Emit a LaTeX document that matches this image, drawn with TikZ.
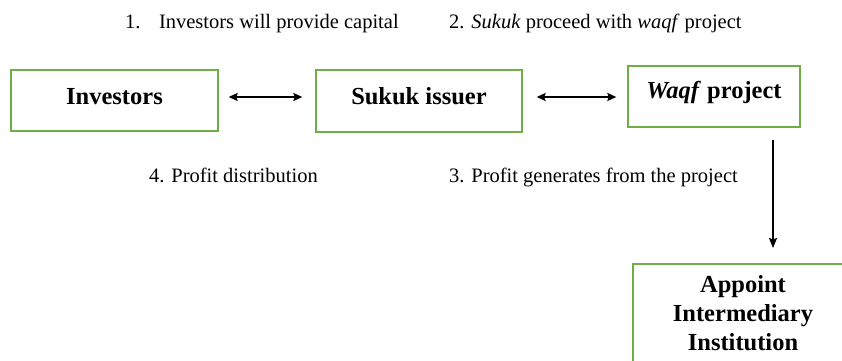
\documentclass[tikz,border=0pt]{standalone}
\usepackage{fontspec}
\setmainfont{Liberation Serif}
\usetikzlibrary{arrows.meta}
\definecolor{boxgreen}{RGB}{112,173,71}
\begin{document}
\begin{tikzpicture}[x=1pt,y=1pt,
  stepbox/.style={draw=boxgreen, line width=1.3pt, rectangle, inner sep=0pt},
  boxtext/.style={font=\fontsize{24.5}{29}\selectfont\bfseries, inner sep=0pt},
  note/.style={font=\fontsize{20.5}{24}\selectfont, anchor=base west, inner sep=0pt},
  link/.style={line width=1.9pt, {Stealth[length=9pt,width=8pt,inset=1.5pt]}-{Stealth[length=9pt,width=8pt,inset=1.5pt]}},
  flow/.style={line width=1.9pt, -{Stealth[length=10pt,width=8pt,inset=1.5pt]}}]
\useasboundingbox (0,0) rectangle (842,360);
\clip (0,0) rectangle (842,360);

% boxes
\node[stepbox, minimum width=207pt, minimum height=61pt] (inv) at (114.5,259.5) {};
\node[stepbox, minimum width=206pt, minimum height=62pt] (sukuk) at (419,259) {};
\node[stepbox, minimum width=172pt, minimum height=61pt] (waqf) at (714,263.5) {};
\node[stepbox, minimum width=217pt, minimum height=120pt] (inst) at (741.5,36) {};

% box labels
\node[boxtext] (invt) at ([yshift=4pt]inv.center) {Investors};
\node[boxtext] (sukukt) at ([yshift=5pt]sukuk.center) {Sukuk issuer};
\node[boxtext] (waqft) at ([yshift=4.5pt]waqf.center) {\textit{Waqf} project};
\node[boxtext, align=center, anchor=base] (instt) at (743,10)
  {Appoint\\Intermediary\\Institution};

% step notes
\node[note] (n1) at (125,332) {1.\hspace{0.9em}Investors will provide capital};
\node[note] (n2) at (449,332) {2. \textit{Sukuk} proceed with \textit{waqf} project};
\node[note] (n4) at (149,178) {4. Profit distribution};
\node[note] (n3) at (449,178) {3. Profit generates from the project};

% connectors
\draw[link, shorten <=10pt, shorten >=13pt] ([yshift=3.5pt]inv.east) -- ([yshift=4pt]sukuk.west);
\draw[link, shorten <=14pt, shorten >=11pt] ([yshift=4pt]sukuk.east) -- ([yshift=-0.5pt]waqf.west);
\coordinate (vtop) at (773,220);
\coordinate (vtip) at (773,112);
\draw[flow] (vtop) -- (vtip);
\end{tikzpicture}
\end{document}
